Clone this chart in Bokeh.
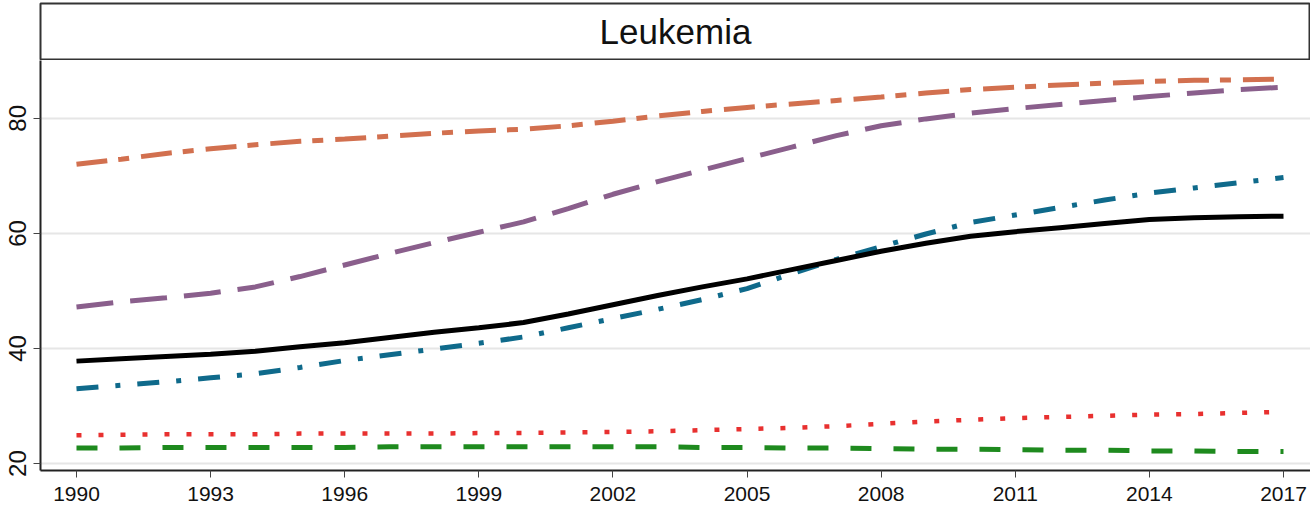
from bokeh.plotting import figure
from bokeh.layouts import column
from bokeh.models import FixedTicker, Range1d, Label
from bokeh.embed import file_html
from bokeh.resources import INLINE

years = list(range(1990, 2018))

black_vals = [37.8, 38.2, 38.6, 39.0, 39.5, 40.3, 41.0, 41.9, 42.8, 43.6, 44.5, 46.0, 47.6, 49.2,
              50.7, 52.1, 53.7, 55.3, 56.9, 58.3, 59.5, 60.3, 61.0, 61.7, 62.4, 62.7, 62.9, 63.0]
teal_vals = [33.0, 33.6, 34.2, 34.9, 35.6, 36.7, 37.9, 38.9, 39.9, 40.9, 42.0, 43.6, 45.2, 46.8,
             48.5, 50.4, 53.0, 55.5, 57.7, 59.9, 61.9, 63.2, 64.5, 65.8, 67.0, 67.9, 68.8, 69.7]
purple_vals = [47.2, 48.1, 48.8, 49.6, 50.7, 52.5, 54.5, 56.5, 58.4, 60.2, 62.0, 64.3, 66.8, 69.0,
               71.0, 73.0, 75.0, 77.0, 78.7, 79.9, 80.9, 81.7, 82.4, 83.1, 83.8, 84.4, 85.0, 85.4]
orange_vals = [72.0, 72.9, 73.9, 74.7, 75.4, 76.0, 76.4, 76.9, 77.4, 77.8, 78.1, 78.7, 79.5, 80.4,
               81.2, 81.9, 82.5, 83.1, 83.7, 84.4, 85.0, 85.4, 85.8, 86.1, 86.4, 86.6, 86.7, 86.8]
red_vals = [24.9, 25.0, 25.1, 25.1, 25.1, 25.2, 25.2, 25.2, 25.2, 25.3, 25.3, 25.4, 25.5, 25.6,
            25.8, 26.0, 26.2, 26.5, 26.9, 27.3, 27.6, 27.9, 28.1, 28.3, 28.5, 28.6, 28.8, 29.0]
green_vals = [22.7, 22.7, 22.8, 22.8, 22.8, 22.8, 22.8, 22.9, 22.9, 22.9, 22.9, 22.9, 22.9, 22.9,
              22.8, 22.8, 22.7, 22.7, 22.6, 22.5, 22.5, 22.4, 22.3, 22.3, 22.2, 22.2, 22.1, 22.1]

x_ticks = list(range(1990, 2018, 3))
y_ticks = [20, 40, 60, 80]
title_text = "Leukemia"

LEFT = 40
W = 1310

# Title strip
t = figure(width=W, height=60, x_range=Range1d(0, 1), y_range=Range1d(0, 1),
           toolbar_location=None, output_backend="svg",
           min_border=0, min_border_left=LEFT, min_border_top=3, min_border_bottom=1)
t.axis.visible = False
t.grid.visible = False
t.outline_line_color = "#333333"
t.outline_line_width = 2
t.add_layout(Label(x=0.5, y=0.5, text=title_text, text_align="center", text_baseline="middle",
                   text_font="Liberation Sans", text_font_size="35px", text_color="#111111"))

# Main plot
p = figure(width=W, height=445, x_range=Range1d(1989.195, 2017.604), y_range=Range1d(18.79, 90.05),
           toolbar_location=None, output_backend="svg",
           min_border=0, min_border_left=LEFT, min_border_bottom=35)
p.outline_line_color = None
p.xgrid.visible = False
p.ygrid.grid_line_color = "#e6e6e6"
p.ygrid.grid_line_width = 2

p.xaxis.ticker = FixedTicker(ticks=x_ticks)
p.yaxis.ticker = FixedTicker(ticks=y_ticks)
for ax in (p.xaxis, p.yaxis):
    ax.axis_line_color = "#222222"
    ax.axis_line_width = 2
    ax.major_tick_line_color = "#444444"
    ax.major_tick_line_width = 1
    ax.major_tick_in = 0
    ax.major_tick_out = 7
    ax.minor_tick_line_color = None
    ax.major_label_text_font = "Liberation Sans"
    ax.major_label_text_color = "#111111"
p.xaxis.major_label_text_font_size = "21px"
p.xaxis.major_label_standoff = 9
p.yaxis.major_label_text_font_size = "24px"
p.yaxis.major_label_orientation = "vertical"
p.yaxis.major_label_standoff = 7

p.line(years, green_vals, line_color="#1e8a1e", line_width=5, line_dash="21 22")
p.line(years, red_vals, line_color="#e8302f", line_width=4.5, line_dash="5 17")
p.line(years, teal_vals, line_color="#0f6a8b", line_width=5, line_dash="22 17 5 17")
p.line(years, black_vals, line_color="#000000", line_width=5)
p.line(years, purple_vals, line_color="#8a5f8c", line_width=5, line_dash="37 17")
p.line(years, orange_vals, line_color="#d2704f", line_width=5, line_dash="31 11 11 12")

layout = column(t, p, spacing=0)
open("out.html", "w").write(file_html(layout, INLINE))
